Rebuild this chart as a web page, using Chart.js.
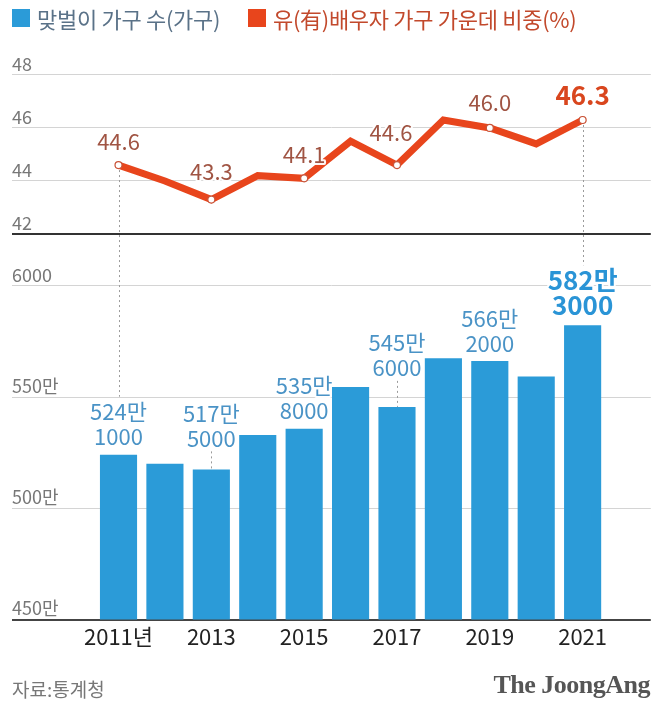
<!DOCTYPE html>
<html><head><meta charset="utf-8">
<script src="https://cdn.jsdelivr.net/npm/chart.js@4.4.0/dist/chart.umd.min.js"></script>
<style>
html,body{margin:0;padding:0;background:#fff;}
#wrap{position:relative;width:656px;height:710px;overflow:hidden;font-family:"Noto Sans CJK KR",sans-serif;}
#c{position:absolute;left:0;top:0;}
.leg{position:absolute;top:4px;height:28px;display:flex;align-items:center;font-size:22px;white-space:nowrap;letter-spacing:-0.3px;}
.sq{display:inline-block;width:18px;height:18px;margin-right:7px;}
#src{position:absolute;left:12px;top:675px;font-size:19px;color:#777;}
#logo{position:absolute;right:6px;top:670px;font-family:"Liberation Serif","DejaVu Serif",serif;font-weight:bold;font-size:26px;color:#555;letter-spacing:-0.5px;}
</style></head>
<body><div id="wrap">
<canvas id="c" width="656" height="710"></canvas>
<div class="leg" id="leg1" style="left:12px"><span class="sq" style="background:#2b9bd8"></span><span id="l1" style="color:#5a7288"></span></div>
<div class="leg" id="leg2" style="left:248px"><span class="sq" style="background:#e8451c"></span><span id="l2" style="color:#c2492c"></span></div>
<div id="src">자료:통계청</div>
<div id="logo">The JoongAng</div>
</div>
<script>
// ---- data ----
const years = [2011,2012,2013,2014,2015,2016,2017,2018,2019,2020,2021];
const households = [524.1,520.0,517.5,533.0,535.8,554.5,545.6,567.5,566.2,559.3,582.3]; // 만 가구
const shares = [44.6,44.0,43.3,44.2,44.1,45.5,44.6,46.3,46.0,45.4,46.3]; // %
const labeledYears = [2011,2013,2015,2017,2019,2021];
const xTickYears = [2011,2013,2015,2017,2019,2021];
const xTickLabels = ['2011년','2013','2015','2017','2019','2021'];
const barTicks = [450,500,550,600];
const barTickLabels = ['450만','500만','550만','6000'];
const lineTicks = [42,44,46,48];
const lineTickLabels = ['42','44','46','48'];
const legendLabels = ['맞벌이 가구 수(가구)','유(有)배우자 가구 가운데 비중(%)'];

// ---- annotation styling (px offsets) ----
const barLabelLift = {2011:18,2013:31,2015:18,2017:39,2019:17,2021:20};
const lineLabelLift = {2011:23,2013:28,2015:24,2017:32,2019:25,2021:25};
const lineLabelShiftX = {2017:-6};
const FONT = '"Noto Sans CJK KR", sans-serif';
const BAR_COLOR = '#2b9bd8';
const LINE_COLOR = '#e8451c';
const LH = 25;

document.getElementById('l1').textContent = legendLabels[0];
document.getElementById('l2').textContent = legendLabels[1];

function haloText(ctx, txt, x, y, font, color){
  ctx.font = font;
  ctx.textAlign = 'center';
  ctx.textBaseline = 'middle';
  ctx.lineJoin = 'round';
  ctx.lineWidth = 4;
  ctx.strokeStyle = 'rgba(255,255,255,0.95)';
  ctx.strokeText(txt, x, y);
  ctx.fillStyle = color;
  ctx.fillText(txt, x, y);
}

const annot = {
  id:'annot',
  beforeDatasetsDraw(chart){
    const ctx = chart.ctx, xs = chart.scales.x, yb = chart.scales.yBar, yl = chart.scales.yLine;
    ctx.save();
    ctx.strokeStyle = '#9a9a9a'; ctx.lineWidth = 1; ctx.setLineDash([2,3]);
    [2011,2021].forEach(yr => {
      const i = years.indexOf(yr);
      const x = Math.round(xs.getPixelForValue(yr)) + 0.5;
      const y0 = yl.getPixelForValue(shares[i]);
      const y1 = yb.getPixelForValue(households[i]) - barLabelLift[yr] - LH - 15;
      ctx.beginPath(); ctx.moveTo(x, y0); ctx.lineTo(x, y1); ctx.stroke();
    });
    [2013,2017].forEach(yr => {
      const i = years.indexOf(yr);
      const x = Math.round(xs.getPixelForValue(yr)) + 0.5;
      const top = yb.getPixelForValue(households[i]);
      const y0 = top - barLabelLift[yr] + 13;
      ctx.beginPath(); ctx.moveTo(x, y0); ctx.lineTo(x, top); ctx.stroke();
    });
    ctx.restore();
  },
  afterDatasetsDraw(chart){
    const ctx = chart.ctx, xs = chart.scales.x, yb = chart.scales.yBar, yl = chart.scales.yLine;
    ctx.save();
    labeledYears.forEach(yr => {
      const i = years.indexOf(yr);
      const x = xs.getPixelForValue(yr);
      const last = yr === 2021;
      // bar labels
      const v = households[i];
      const man = Math.floor(v);
      const rest = String(Math.round((v - man) * 10000)).padStart(4,'0');
      const by = yb.getPixelForValue(v) - barLabelLift[yr];
      const bf = last ? 'bold 26px ' + FONT : '22px ' + FONT;
      const bc = last ? '#2a94d6' : '#4a93c6';
      haloText(ctx, man + '만', x, by - LH, bf, bc);
      haloText(ctx, rest, x, by, bf, bc);
      // line labels
      const ly = yl.getPixelForValue(shares[i]) - lineLabelLift[yr];
      const lx = x + (lineLabelShiftX[yr] || 0);
      const lf = last ? 'bold 26px ' + FONT : '22px ' + FONT;
      const lc = last ? '#d9461e' : '#a05443';
      haloText(ctx, shares[i].toFixed(1), lx, ly, lf, lc);
    });
    ctx.restore();
  }
};

const gridGray = '#d4d4d4';
const chart = new Chart(document.getElementById('c'), {
  data: {
    datasets: [
      {
        type:'line', label: legendLabels[1], yAxisID:'yLine', order:0,
        data: years.map((y,i)=>({x:y, y:shares[i]})),
        borderColor: LINE_COLOR, borderWidth: 7, tension: 0,
        borderCapStyle:'round', borderJoinStyle:'miter',
        pointRadius: c => labeledYears.includes(years[c.dataIndex]) ? 3.5 : 0,
        pointBackgroundColor:'#fff', pointBorderColor:'#c9553a', pointBorderWidth:1.2
      },
      {
        type:'bar', label: legendLabels[0], yAxisID:'yBar', order:1,
        data: years.map((y,i)=>({x:y, y:households[i]})),
        backgroundColor: BAR_COLOR, categoryPercentage:0.8, barPercentage:1
      }
    ]
  },
  options: {
    responsive:false, animation:false, events:[],
    layout:{padding:{left:12,right:4,top:50,bottom:50}},
    plugins:{legend:{display:false}, tooltip:{enabled:false}},
    scales:{
      x:{
        type:'linear', offset:false, min:2008.705, max:2022.469,
        afterBuildTicks: s => { s.ticks = xTickYears.map(v=>({value:v})); },
        afterFit: s => { s.height = 40.5; },
        ticks:{ autoSkip:false, maxRotation:0, padding:4, color:'#222',
          font:{family:FONT, size:22},
          callback: v => { const k = xTickYears.indexOf(v); return k>=0 ? xTickLabels[k] : ''; } },
        grid:{display:false, drawTicks:false, offset:false}, border:{display:false}
      },
      yBar:{
        type:'linear', position:'left', stack:'v', stackWeight:385.5,
        min:450, max:623.34,
        afterBuildTicks: s => { s.ticks = barTicks.map(v=>({value:v})); },
        ticks:{ mirror:true, padding:0, labelOffset:-11, color:'#777',
          font:{family:FONT, size:18},
          callback: v => { const k = barTicks.indexOf(v); return k>=0 ? barTickLabels[k] : ''; } },
        grid:{ drawTicks:false, color: c => c.tick && c.tick.value === 450 ? '#444' : gridGray,
               lineWidth: c => c.tick && c.tick.value === 450 ? 2 : 1 },
        border:{display:false}
      },
      yLine:{
        type:'linear', position:'left', stack:'v', stackWeight:184,
        min:42, max:48.94,
        afterBuildTicks: s => { s.ticks = lineTicks.map(v=>({value:v})); },
        ticks:{ mirror:true, padding:0, labelOffset:-11, color:'#777',
          font:{family:FONT, size:18},
          callback: v => { const k = lineTicks.indexOf(v); return k>=0 ? lineTickLabels[k] : ''; } },
        grid:{ drawTicks:false, color: c => c.tick && c.tick.value === 42 ? '#333' : gridGray,
               lineWidth: c => c.tick && c.tick.value === 42 ? 2 : 1 },
        border:{display:false}
      }
    }
  },
  plugins:[annot]
});
</script>
</body></html>
